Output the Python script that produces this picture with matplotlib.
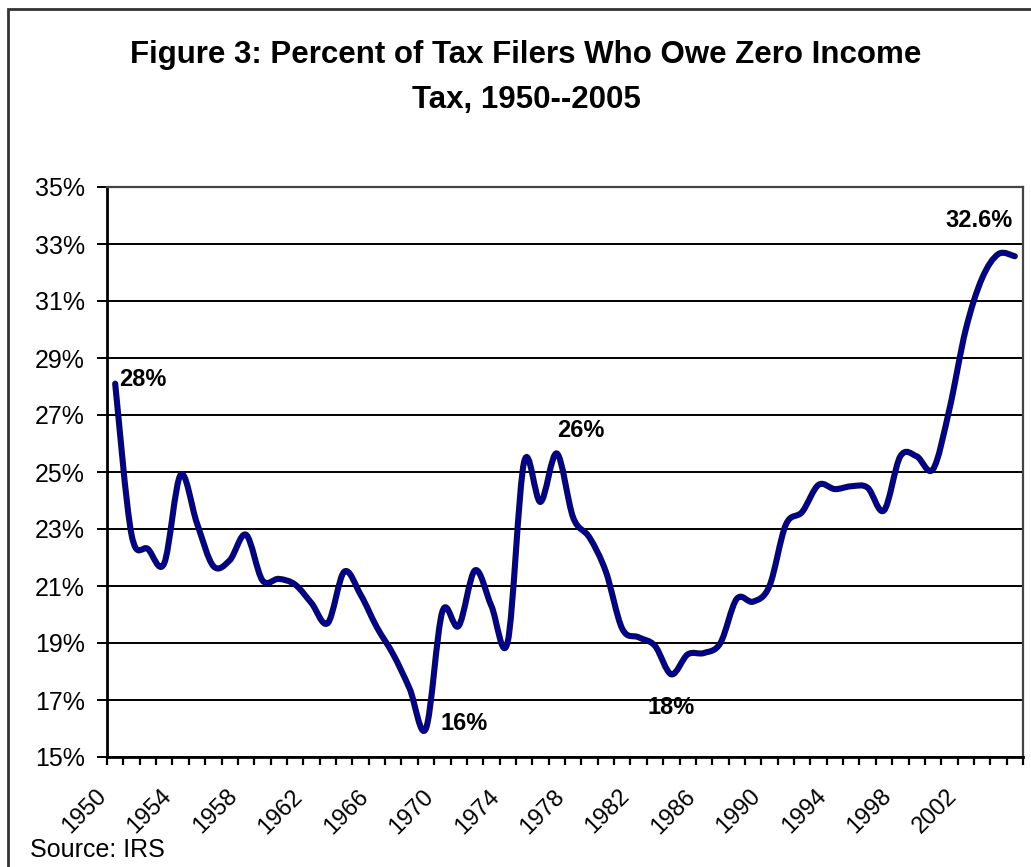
import matplotlib
matplotlib.use('Agg')
import matplotlib.pyplot as plt
import matplotlib.transforms as mtransforms
import matplotlib.patheffects as pe
from matplotlib.path import Path
from matplotlib.patches import PathPatch, Rectangle
import numpy as np

plt.rcParams['font.family'] = ['Liberation Sans', 'DejaVu Sans']

# data (percent of filers with zero tax liability)
years = list(range(1950, 2006))
pct = [28.1, 22.8, 22.3, 21.8, 24.9, 23.2, 21.7, 21.9, 22.8, 21.2,
       21.25, 21.05, 20.4, 19.7, 21.5, 20.7, 19.55, 18.6, 17.4, 16.0,
       20.1, 19.6, 21.55, 20.3, 19.05, 25.35, 23.95, 25.65, 23.4, 22.7,
       21.5, 19.5, 19.2, 18.9, 17.9, 18.6, 18.65, 19.0, 20.55, 20.45,
       21.0, 23.15, 23.6, 24.55, 24.4, 24.5, 24.45, 23.65, 25.55, 25.55,
       25.1, 27.2, 30.0, 31.8, 32.65, 32.57]
ytick_vals = list(range(15, 36, 2))
label_years = years[::4]

# callouts: text, year it points at, offset in pixels
callouts = [('28%', 1950, (28, 4)),
            ('16%', 1969, (38, 5)),
            ('26%', 1977, (24, 23)),
            ('18%', 1984, (0, -33)),
            ('32.6%', 2005, (-36, 36))]

fig = plt.figure(figsize=(10.31, 8.67), dpi=100)
ax = fig.add_axes([107/1031, 1 - 757/867, (1023 - 107)/1031, (757 - 187)/867])

# outer chart border (only left/top visible in the crop)
fig.patches.append(Rectangle((8/1031, -0.2), 1.5, 1.2 - 9/867,
                             transform=fig.transFigure, fill=False,
                             edgecolor='#333333', lw=2, zorder=0))

# smoothed line like excel: catmull-rom -> bezier
x = np.arange(len(years), dtype=float)
y = np.array(pct)
verts = [(x[0], y[0])]
codes = [Path.MOVETO]
n = len(x)
for i in range(n - 1):
    p0 = np.array([x[max(i - 1, 0)], y[max(i - 1, 0)]])
    p1 = np.array([x[i], y[i]])
    p2 = np.array([x[i + 1], y[i + 1]])
    p3 = np.array([x[min(i + 2, n - 1)], y[min(i + 2, n - 1)]])
    c1 = p1 + (p2 - p0) / 6
    c2 = p2 - (p3 - p1) / 6
    verts += [tuple(c1), tuple(c2), tuple(p2)]
    codes += [Path.CURVE4] * 3
line = PathPatch(Path(verts, codes), fill=False, edgecolor='#000099',
                 lw=3.0, capstyle='round', joinstyle='round', zorder=3)
line.set_path_effects([pe.Stroke(linewidth=4.4, foreground='#101030'), pe.Normal()])
ax.add_patch(line)

ax.set_xlim(-0.5, len(years) - 0.5)
ax.set_ylim(15, 35)

# gridlines
for v in ytick_vals:
    ax.axhline(v, color='black', lw=1.4, zorder=1)

ax.set_yticks(ytick_vals)
ax.set_yticklabels([f'{v}%' for v in ytick_vals], fontsize=18)
ax.tick_params(axis='y', length=7, width=1.4, pad=9, color='black')

ax.set_xticks([years.index(yr) for yr in label_years])
ax.set_xticklabels([str(yr) for yr in label_years], fontsize=17,
                   rotation=45, ha='right', va='center', rotation_mode='anchor')
ax.set_xticks(np.arange(-0.5, len(years)), minor=True)
ax.tick_params(axis='x', which='major', length=0, pad=26)
ax.tick_params(axis='x', which='minor', length=6, width=1.6, color='black')
shift = mtransforms.ScaledTranslation(-12/100, 0, fig.dpi_scale_trans)
for lab in ax.get_xticklabels():
    lab.set_transform(lab.get_transform() + shift)

for side in ['left', 'bottom']:
    ax.spines[side].set_linewidth(2)
    ax.spines[side].set_color('black')
for side in ['right', 'top']:
    ax.spines[side].set_linewidth(1.6)
    ax.spines[side].set_color('#444444')

for txt, yr, off in callouts:
    i = years.index(yr)
    ax.annotate(txt, xy=(i, pct[i]), xytext=off, textcoords='offset pixels',
                ha='center', va='center', fontsize=17, fontweight='bold', zorder=4)

fig.text(526/1031, 1 - 55/867, 'Figure 3: Percent of Tax Filers Who Owe Zero Income',
         ha='center', va='center', fontsize=22.5, fontweight='bold')
fig.text(526/1031, 1 - 100/867, 'Tax, 1950--2005',
         ha='center', va='center', fontsize=22.5, fontweight='bold')
fig.text(30/1031, 1 - 850/867, 'Source: IRS', ha='left', va='center', fontsize=18)

fig.savefig('out.png', dpi=100)
